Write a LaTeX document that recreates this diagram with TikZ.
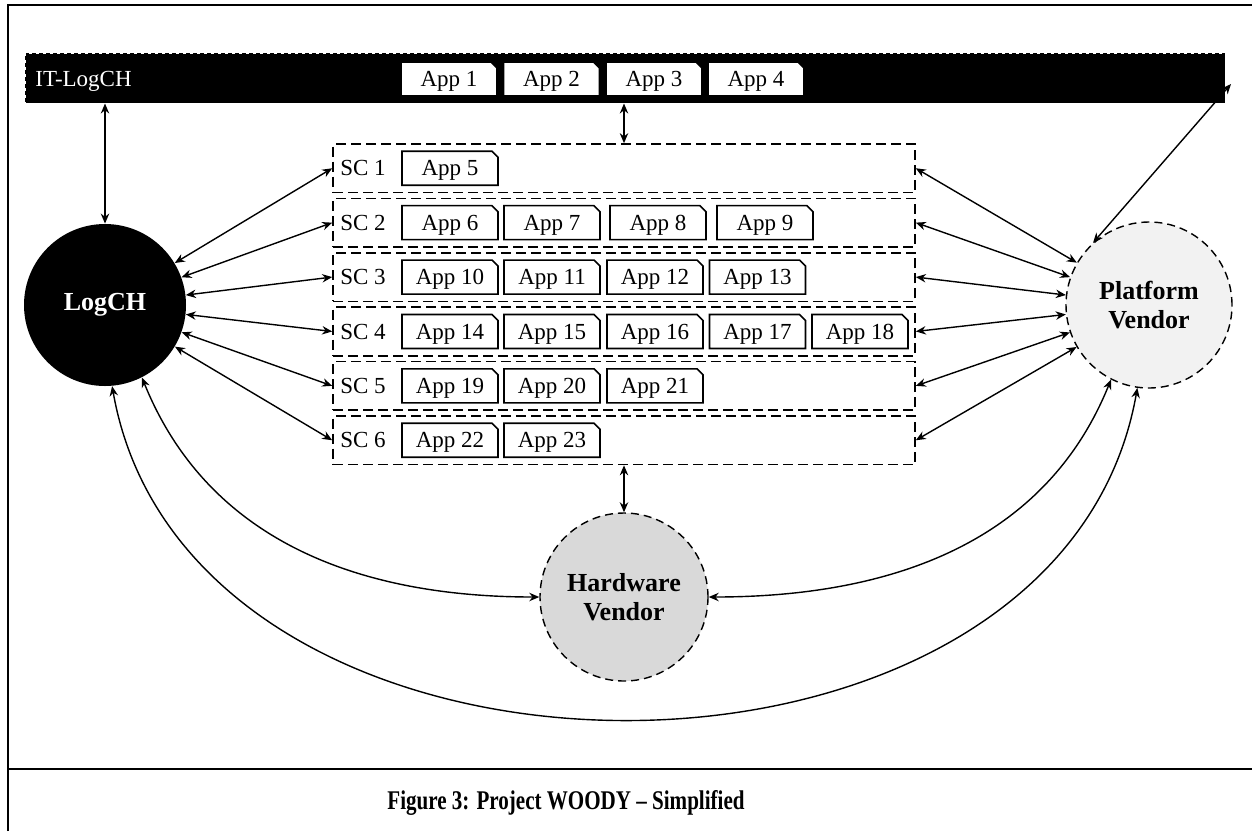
\documentclass[tikz,border=0pt]{standalone}
\usepackage{fontspec}
\setmainfont{Liberation Serif}
\usepackage{graphicx}
\usetikzlibrary{arrows.meta}

% application tile: box with a clipped top-right corner and its label
\newcommand\appbox[4]{%
  \path[appline, shift={(#2,#3)}] (-48,-17) -- (-48,17) -- (42,17) -- (48,11) -- (48,-17) -- cycle;
  \node[apptext] (#1) at (#2,#3) {#4};
}

\begin{document}
\begin{tikzpicture}[
  x=0.5pt, y=0.5pt,
  frameline/.style={line width=1pt},
  arr/.style={line width=0.7pt, {Stealth[length=5pt,width=4.2pt]}-{Stealth[length=5pt,width=4.2pt]}},
  scrow/.style={draw, dash pattern=on 5pt off 2.5pt, line width=0.8pt,
    minimum width=291pt, minimum height=24.25pt, inner sep=0pt},
  sclabel/.style={font=\fontsize{11.5}{13}\selectfont, inner sep=0pt,
    text height=7.6pt, text depth=0pt},
  apptext/.style={font=\fontsize{11.5}{13}\selectfont, inner sep=0pt,
    text height=7.6pt, text depth=0pt, minimum width=48pt, minimum height=17pt},
  appline/.style={draw, line width=0.8pt, fill=white},
  party/.style={circle, inner sep=0pt, align=center,
    font=\bfseries\fontsize{13}{14.5}\selectfont},
  vendor/.style={party, draw, line width=0.7pt, dash pattern=on 4pt off 2.5pt},
]
\fill[white] (0,0) rectangle (1252,-831);
\useasboundingbox (0,0) rectangle (1252,-831);

% page frame and caption rule
\draw[frameline] (8,-831) -- (8,-5) -- (1252,-5);
\draw[frameline] (8,-769) -- (1252,-769);
\node[font=\bfseries\fontsize{13.5}{15}\selectfont] (caption) at (566,-803)
  {\scalebox{0.78}[1]{Figure 3: Project WOODY – Simplified}};

% IT-LogCH bar with its applications
\node[fill=black, draw=white, dash pattern=on 1.5pt off 2pt, line width=0.5pt,
  minimum width=600pt, minimum height=25pt, inner sep=0pt] (itbar) at (625,-78) {};
\node[anchor=base west, text=white, font=\fontsize{11.5}{13}\selectfont, inner sep=0pt]
  (itlabel) at (35,-86) {IT-LogCH};
\appbox{a1}{449}{-79}{App 1}
\appbox{a2}{551.5}{-79}{App 2}
\appbox{a3}{654}{-79}{App 3}
\appbox{a4}{756}{-79}{App 4}
\coordinate (itend) at (1231,-84);

% service-center rows
\node[scrow] (sc1) at (624,-168.25) {};
\node[scrow] (sc2) at (624,-222.65) {};
\node[scrow] (sc3) at (624,-277.05) {};
\node[scrow] (sc4) at (624,-331.45) {};
\node[scrow] (sc5) at (624,-385.85) {};
\node[scrow] (sc6) at (624,-440.25) {};
\node[sclabel] (l1) at (363,-168.25) {SC 1};
\node[sclabel] (l2) at (363,-222.65) {SC 2};
\node[sclabel] (l3) at (363,-277.05) {SC 3};
\node[sclabel] (l4) at (363,-331.45) {SC 4};
\node[sclabel] (l5) at (363,-385.85) {SC 5};
\node[sclabel] (l6) at (363,-440.25) {SC 6};

\appbox{a5}{450}{-168.25}{App 5}

\appbox{a6}{450}{-222.65}{App 6}
\appbox{a7}{552}{-222.65}{App 7}
\appbox{a8}{658}{-222.65}{App 8}
\appbox{a9}{765}{-222.65}{App 9}

\appbox{a10}{450}{-277.05}{App 10}
\appbox{a11}{552}{-277.05}{App 11}
\appbox{a12}{655}{-277.05}{App 12}
\appbox{a13}{757.5}{-277.05}{App 13}

\appbox{a14}{450}{-331.45}{App 14}
\appbox{a15}{552}{-331.45}{App 15}
\appbox{a16}{655}{-331.45}{App 16}
\appbox{a17}{757.5}{-331.45}{App 17}
\appbox{a18}{860}{-331.45}{App 18}

\appbox{a19}{450}{-385.85}{App 19}
\appbox{a20}{552}{-385.85}{App 20}
\appbox{a21}{655}{-385.85}{App 21}

\appbox{a22}{450}{-440.25}{App 22}
\appbox{a23}{552}{-440.25}{App 23}

% parties
\node[party, fill=black, text=white, minimum size=81pt] (logch) at (105,-305) {LogCH};
\node[vendor, fill=black!5, minimum size=83pt] (pv) at (1149,-305) {Platform\\Vendor};
\node[vendor, fill=black!15, minimum size=84pt] (hv) at (624,-597) {Hardware\\Vendor};

% connectors
\draw[arr] (itbar.south -| logch.north) -- (logch.north);
\draw[arr] (itbar.south -| sc1.north) -- (sc1.north);
\draw[arr] (itend) -- (pv.132);
\foreach \r in {1,...,6} {
  \draw[arr] (sc\r.west) -- (logch);
  \draw[arr] (sc\r.east) -- (pv);
}
\draw[arr] (sc6.south) -- (hv.north);
\draw[arr] (logch.-63) to[out=-68,in=180] (hv.west);
\draw[arr] (pv.-117) to[out=-112,in=0] (hv.east);
\draw[arr] (logch.-85) to[out=-80,in=-100,looseness=1.12] (pv.-98);
\end{tikzpicture}
\end{document}
